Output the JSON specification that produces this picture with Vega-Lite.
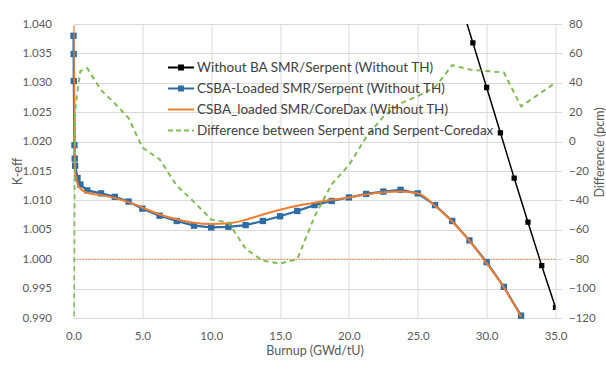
{
  "$schema": "https://vega.github.io/schema/vega-lite/v6.json",
  "width": 482,
  "height": 294,
  "autosize": {"type": "none"},
  "padding": {"left": 73.5, "top": 24, "right": 50.5, "bottom": 47},
  "background": "#ffffff",
  "config": {
    "font": "Lato",
    "view": {"stroke": null},
    "axis": {
      "labelFont": "Lato", "labelFontSize": 11.5, "labelColor": "#595959",
      "titleFont": "Lato", "titleFontSize": 12.5, "titleFontWeight": "normal", "titleColor": "#595959",
      "gridColor": "#d9d9d9", "gridWidth": 1, "domain": false, "ticks": false, "labelFlush": false, "labelOverlap": false
    }
  },
  "datasets": {
    "keff": [
      {"series": "ref", "x": 0, "y": 1.0},
      {"series": "ref", "x": 35, "y": 1.0},
      {"series": "Without BA SMR/Serpent (Without TH)", "x": 28, "y": 1.0444},
      {"series": "Without BA SMR/Serpent (Without TH)", "x": 29, "y": 1.0368},
      {"series": "Without BA SMR/Serpent (Without TH)", "x": 30, "y": 1.0292},
      {"series": "Without BA SMR/Serpent (Without TH)", "x": 31, "y": 1.0215},
      {"series": "Without BA SMR/Serpent (Without TH)", "x": 32, "y": 1.0138},
      {"series": "Without BA SMR/Serpent (Without TH)", "x": 33, "y": 1.0063},
      {"series": "Without BA SMR/Serpent (Without TH)", "x": 34, "y": 0.9989},
      {"series": "Without BA SMR/Serpent (Without TH)", "x": 35, "y": 0.9918},
      {"series": "CSBA-Loaded SMR/Serpent (Without TH)", "x": 0, "y": 1.0380},
      {"series": "CSBA-Loaded SMR/Serpent (Without TH)", "x": 0.01, "y": 1.0349},
      {"series": "CSBA-Loaded SMR/Serpent (Without TH)", "x": 0.02, "y": 1.0303},
      {"series": "CSBA-Loaded SMR/Serpent (Without TH)", "x": 0.07, "y": 1.0194},
      {"series": "CSBA-Loaded SMR/Serpent (Without TH)", "x": 0.09, "y": 1.0171},
      {"series": "CSBA-Loaded SMR/Serpent (Without TH)", "x": 0.12, "y": 1.0159},
      {"series": "CSBA-Loaded SMR/Serpent (Without TH)", "x": 0.29, "y": 1.0138},
      {"series": "CSBA-Loaded SMR/Serpent (Without TH)", "x": 0.5, "y": 1.0127},
      {"series": "CSBA-Loaded SMR/Serpent (Without TH)", "x": 1, "y": 1.0117},
      {"series": "CSBA-Loaded SMR/Serpent (Without TH)", "x": 2, "y": 1.0112},
      {"series": "CSBA-Loaded SMR/Serpent (Without TH)", "x": 3, "y": 1.0106},
      {"series": "CSBA-Loaded SMR/Serpent (Without TH)", "x": 4, "y": 1.0098},
      {"series": "CSBA-Loaded SMR/Serpent (Without TH)", "x": 5, "y": 1.0086},
      {"series": "CSBA-Loaded SMR/Serpent (Without TH)", "x": 6.25, "y": 1.0074},
      {"series": "CSBA-Loaded SMR/Serpent (Without TH)", "x": 7.5, "y": 1.0065},
      {"series": "CSBA-Loaded SMR/Serpent (Without TH)", "x": 8.75, "y": 1.0057},
      {"series": "CSBA-Loaded SMR/Serpent (Without TH)", "x": 10, "y": 1.0054},
      {"series": "CSBA-Loaded SMR/Serpent (Without TH)", "x": 11.25, "y": 1.0055},
      {"series": "CSBA-Loaded SMR/Serpent (Without TH)", "x": 12.5, "y": 1.0058},
      {"series": "CSBA-Loaded SMR/Serpent (Without TH)", "x": 13.75, "y": 1.0065},
      {"series": "CSBA-Loaded SMR/Serpent (Without TH)", "x": 15, "y": 1.0073},
      {"series": "CSBA-Loaded SMR/Serpent (Without TH)", "x": 16.25, "y": 1.0082},
      {"series": "CSBA-Loaded SMR/Serpent (Without TH)", "x": 17.5, "y": 1.0092},
      {"series": "CSBA-Loaded SMR/Serpent (Without TH)", "x": 18.75, "y": 1.0099},
      {"series": "CSBA-Loaded SMR/Serpent (Without TH)", "x": 20, "y": 1.0105},
      {"series": "CSBA-Loaded SMR/Serpent (Without TH)", "x": 21.25, "y": 1.0111},
      {"series": "CSBA-Loaded SMR/Serpent (Without TH)", "x": 22.5, "y": 1.0115},
      {"series": "CSBA-Loaded SMR/Serpent (Without TH)", "x": 23.75, "y": 1.0118},
      {"series": "CSBA-Loaded SMR/Serpent (Without TH)", "x": 25, "y": 1.0112},
      {"series": "CSBA-Loaded SMR/Serpent (Without TH)", "x": 26.25, "y": 1.0092},
      {"series": "CSBA-Loaded SMR/Serpent (Without TH)", "x": 27.5, "y": 1.0065},
      {"series": "CSBA-Loaded SMR/Serpent (Without TH)", "x": 28.75, "y": 1.0032},
      {"series": "CSBA-Loaded SMR/Serpent (Without TH)", "x": 30, "y": 0.9995},
      {"series": "CSBA-Loaded SMR/Serpent (Without TH)", "x": 31.25, "y": 0.9953},
      {"series": "CSBA-Loaded SMR/Serpent (Without TH)", "x": 32.5, "y": 0.9904},
      {"series": "CSBA_loaded SMR/CoreDax (Without TH)", "x": 0, "y": 1.0397},
      {"series": "CSBA_loaded SMR/CoreDax (Without TH)", "x": 0.1, "y": 1.0152},
      {"series": "CSBA_loaded SMR/CoreDax (Without TH)", "x": 0.4, "y": 1.0123},
      {"series": "CSBA_loaded SMR/CoreDax (Without TH)", "x": 1, "y": 1.0113},
      {"series": "CSBA_loaded SMR/CoreDax (Without TH)", "x": 2, "y": 1.0109},
      {"series": "CSBA_loaded SMR/CoreDax (Without TH)", "x": 3, "y": 1.0104},
      {"series": "CSBA_loaded SMR/CoreDax (Without TH)", "x": 4, "y": 1.0097},
      {"series": "CSBA_loaded SMR/CoreDax (Without TH)", "x": 5, "y": 1.0088},
      {"series": "CSBA_loaded SMR/CoreDax (Without TH)", "x": 6.25, "y": 1.0076},
      {"series": "CSBA_loaded SMR/CoreDax (Without TH)", "x": 7.5, "y": 1.0068},
      {"series": "CSBA_loaded SMR/CoreDax (Without TH)", "x": 8.75, "y": 1.0062},
      {"series": "CSBA_loaded SMR/CoreDax (Without TH)", "x": 10, "y": 1.0060},
      {"series": "CSBA_loaded SMR/CoreDax (Without TH)", "x": 11.25, "y": 1.0061},
      {"series": "CSBA_loaded SMR/CoreDax (Without TH)", "x": 12.5, "y": 1.0067},
      {"series": "CSBA_loaded SMR/CoreDax (Without TH)", "x": 13.75, "y": 1.0076},
      {"series": "CSBA_loaded SMR/CoreDax (Without TH)", "x": 15, "y": 1.0084},
      {"series": "CSBA_loaded SMR/CoreDax (Without TH)", "x": 16.25, "y": 1.0091},
      {"series": "CSBA_loaded SMR/CoreDax (Without TH)", "x": 17.5, "y": 1.0096},
      {"series": "CSBA_loaded SMR/CoreDax (Without TH)", "x": 18.75, "y": 1.0101},
      {"series": "CSBA_loaded SMR/CoreDax (Without TH)", "x": 20, "y": 1.0105},
      {"series": "CSBA_loaded SMR/CoreDax (Without TH)", "x": 21.25, "y": 1.0110},
      {"series": "CSBA_loaded SMR/CoreDax (Without TH)", "x": 22.5, "y": 1.0114},
      {"series": "CSBA_loaded SMR/CoreDax (Without TH)", "x": 23.75, "y": 1.0115},
      {"series": "CSBA_loaded SMR/CoreDax (Without TH)", "x": 25, "y": 1.0112},
      {"series": "CSBA_loaded SMR/CoreDax (Without TH)", "x": 26.25, "y": 1.0091},
      {"series": "CSBA_loaded SMR/CoreDax (Without TH)", "x": 27.5, "y": 1.0064},
      {"series": "CSBA_loaded SMR/CoreDax (Without TH)", "x": 28.75, "y": 1.0031},
      {"series": "CSBA_loaded SMR/CoreDax (Without TH)", "x": 30, "y": 0.9993},
      {"series": "CSBA_loaded SMR/CoreDax (Without TH)", "x": 31.25, "y": 0.9952},
      {"series": "CSBA_loaded SMR/CoreDax (Without TH)", "x": 32.5, "y": 0.9902}
    ],
    "diff": [
      {"series": "Difference between Serpent and Serpent-Coredax", "x": 0, "d": -180},
      {"series": "Difference between Serpent and Serpent-Coredax", "x": 0.1, "d": 20},
      {"series": "Difference between Serpent and Serpent-Coredax", "x": 0.3, "d": 35},
      {"series": "Difference between Serpent and Serpent-Coredax", "x": 0.5, "d": 48},
      {"series": "Difference between Serpent and Serpent-Coredax", "x": 1, "d": 50},
      {"series": "Difference between Serpent and Serpent-Coredax", "x": 2, "d": 35},
      {"series": "Difference between Serpent and Serpent-Coredax", "x": 3, "d": 26},
      {"series": "Difference between Serpent and Serpent-Coredax", "x": 4, "d": 16},
      {"series": "Difference between Serpent and Serpent-Coredax", "x": 5, "d": -4},
      {"series": "Difference between Serpent and Serpent-Coredax", "x": 6.25, "d": -12},
      {"series": "Difference between Serpent and Serpent-Coredax", "x": 7.5, "d": -30},
      {"series": "Difference between Serpent and Serpent-Coredax", "x": 8.75, "d": -41},
      {"series": "Difference between Serpent and Serpent-Coredax", "x": 10, "d": -53},
      {"series": "Difference between Serpent and Serpent-Coredax", "x": 11.25, "d": -55},
      {"series": "Difference between Serpent and Serpent-Coredax", "x": 12.5, "d": -73},
      {"series": "Difference between Serpent and Serpent-Coredax", "x": 13.75, "d": -81},
      {"series": "Difference between Serpent and Serpent-Coredax", "x": 15, "d": -83},
      {"series": "Difference between Serpent and Serpent-Coredax", "x": 16.25, "d": -80},
      {"series": "Difference between Serpent and Serpent-Coredax", "x": 17.5, "d": -51},
      {"series": "Difference between Serpent and Serpent-Coredax", "x": 18.75, "d": -29},
      {"series": "Difference between Serpent and Serpent-Coredax", "x": 20, "d": -16},
      {"series": "Difference between Serpent and Serpent-Coredax", "x": 21.25, "d": 3},
      {"series": "Difference between Serpent and Serpent-Coredax", "x": 22.5, "d": 17},
      {"series": "Difference between Serpent and Serpent-Coredax", "x": 23.75, "d": 26},
      {"series": "Difference between Serpent and Serpent-Coredax", "x": 25, "d": 31},
      {"series": "Difference between Serpent and Serpent-Coredax", "x": 26.25, "d": 37},
      {"series": "Difference between Serpent and Serpent-Coredax", "x": 27.5, "d": 52},
      {"series": "Difference between Serpent and Serpent-Coredax", "x": 28.75, "d": 49},
      {"series": "Difference between Serpent and Serpent-Coredax", "x": 30, "d": 48},
      {"series": "Difference between Serpent and Serpent-Coredax", "x": 31.25, "d": 47},
      {"series": "Difference between Serpent and Serpent-Coredax", "x": 32.5, "d": 24},
      {"series": "Difference between Serpent and Serpent-Coredax", "x": 33.75, "d": 32},
      {"series": "Difference between Serpent and Serpent-Coredax", "x": 35, "d": 40}
    ]
  },
  "layer": [
    {
      "data": {"name": "keff"},
      "encoding": {
        "x": {
          "field": "x", "type": "quantitative",
          "scale": {"domain": [0, 35], "nice": false, "zero": false},
          "axis": {"title": "Burnup (GWd/tU)", "values": [0, 5, 10, 15, 20, 25, 30, 35], "format": ".1f", "grid": true, "labelFlush": false, "labelPadding": 12, "titlePadding": 3, "domain": true, "domainColor": "#d9d9d9"}
        },
        "y": {
          "field": "y", "type": "quantitative",
          "scale": {"domain": [0.99, 1.04], "nice": false, "zero": false},
          "axis": {"title": "K-eff", "values": [0.99, 0.995, 1.0, 1.005, 1.01, 1.015, 1.02, 1.025, 1.03, 1.035, 1.04], "format": ".3f", "grid": true, "labelFlush": false, "labelPadding": 22, "titleAngle": 270, "titleX": -56.5, "titleY": 147, "titleAlign": "center", "titleBaseline": "middle"}
        }
      },
      "layer": [
        {
          "transform": [{"filter": "datum.series === 'ref'"}],
          "mark": {"type": "line", "color": "#ED7D31", "strokeWidth": 1, "strokeDash": [1.5, 1.5]}
        },
        {
          "transform": [{"filter": "datum.series === 'Without BA SMR/Serpent (Without TH)'"}],
          "mark": {"type": "line", "strokeWidth": 1.5, "clip": true},
          "encoding": {
            "color": {
              "field": "series", "type": "nominal",
              "scale": {
                "domain": ["Without BA SMR/Serpent (Without TH)", "CSBA-Loaded SMR/Serpent (Without TH)", "CSBA_loaded SMR/CoreDax (Without TH)", "Difference between Serpent and Serpent-Coredax"],
                "range": ["#000000", "#2e6ca4", "#ed7d31", "#80bb55"]
              },
              "legend": {
                "orient": "none", "legendX": 100, "legendY": 36, "title": null,
                "labelFont": "Lato", "labelFontSize": 13.5, "labelColor": "#404040", "labelLimit": 400,
                "symbolSize": 169, "symbolStrokeWidth": 2, "labelOffset": 8.5, "rowPadding": 7,
                "encode": {
                  "symbols": {
                    "update": {
                      "shape": {"signal": "(datum.value === 'Without BA SMR/Serpent (Without TH)' || datum.value === 'CSBA-Loaded SMR/Serpent (Without TH)') ? 'M-2,0H2M-0.3,-0.3H0.3V0.3H-0.3Z' : 'M-2,0H2'"},
                      "fill": {"signal": "(datum.value === 'Without BA SMR/Serpent (Without TH)' || datum.value === 'CSBA-Loaded SMR/Serpent (Without TH)') ? scale('color', datum.value) : 'transparent'"},
                      "stroke": {"signal": "scale('color', datum.value)"},
                      "strokeDash": {"signal": "datum.value === 'Difference between Serpent and Serpent-Coredax' ? [5, 3] : null"},
                      "strokeWidth": {"value": 2},
                      "opacity": {"value": 1}
                    }
                  }
                }
              }
            }
          }
        },
        {
          "transform": [{"filter": "datum.series === 'Without BA SMR/Serpent (Without TH)'"}],
          "mark": {"type": "point", "shape": "square", "filled": true, "size": 28, "opacity": 1, "clip": true},
          "encoding": {"color": {"field": "series", "type": "nominal"}}
        },
        {
          "transform": [{"filter": "datum.series === 'CSBA-Loaded SMR/Serpent (Without TH)'"}],
          "mark": {"type": "line", "strokeWidth": 2.2},
          "encoding": {"color": {"field": "series", "type": "nominal"}}
        },
        {
          "transform": [{"filter": "datum.series === 'CSBA-Loaded SMR/Serpent (Without TH)'"}],
          "mark": {"type": "point", "shape": "square", "filled": true, "size": 40, "opacity": 1},
          "encoding": {"color": {"field": "series", "type": "nominal"}}
        },
        {
          "transform": [{"filter": "datum.series === 'CSBA_loaded SMR/CoreDax (Without TH)'"}],
          "mark": {"type": "line", "strokeWidth": 2, "interpolate": "monotone", "clip": true},
          "encoding": {"color": {"field": "series", "type": "nominal"}}
        }
      ]
    },
    {
      "data": {"name": "diff"},
      "mark": {"type": "line", "strokeWidth": 2, "strokeDash": [5, 4], "clip": true},
      "encoding": {
        "x": {
          "field": "x", "type": "quantitative",
          "scale": {"domain": [0, 35], "nice": false, "zero": false},
          "axis": {"title": "Burnup (GWd/tU)", "values": [0, 5, 10, 15, 20, 25, 30, 35], "format": ".1f", "grid": true, "labelFlush": false, "labelPadding": 12, "titlePadding": 3, "domain": true, "domainColor": "#d9d9d9"}
        },
        "y": {
          "field": "d", "type": "quantitative",
          "scale": {"domain": [-120, 80], "nice": false, "zero": false},
          "axis": {"orient": "right", "title": "Difference (pcm)", "values": [-120, -100, -80, -60, -40, -20, 0, 20, 40, 60, 80], "grid": false, "ticks": true, "tickSize": 6, "tickColor": "#d9d9d9", "labelFlush": false, "labelPadding": 7, "titleAngle": 270, "titleX": 44, "titleY": 128, "titleAlign": "center", "titleBaseline": "middle"}
        },
        "color": {"field": "series", "type": "nominal"}
      }
    }
  ],
  "resolve": {"scale": {"y": "independent"}}
}
